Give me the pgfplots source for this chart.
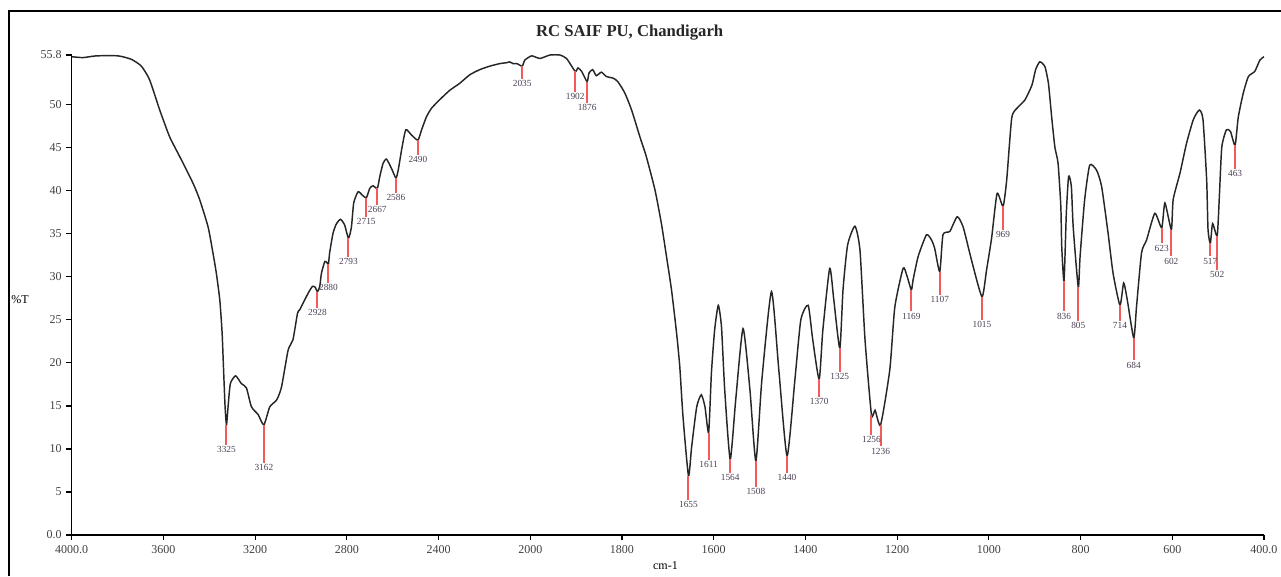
\documentclass[border=0pt]{standalone}
\usepackage{fontspec}
\setmainfont{Liberation Serif}
\usepackage{pgfplots}
\pgfplotsset{compat=1.18}
\usepackage{pgfplotstable}
\definecolor{peakred}{RGB}{245,90,90}
\definecolor{lblgray}{RGB}{75,65,85}
\pgfplotstableread{
wn T
4000 55.6
3951 55.5
3892 55.7
3798 55.7
3740 55.3
3696 54.5
3660 52.9
3616 49.4
3573 46.3
3529 44.0
3471 40.9
3442 39.0
3405 35.8
3384 32.8
3369 30.4
3354 27.3
3344 23.5
3337 18.8
3331 14.9
3325 12.8
3318 14.9
3308 17.6
3285 18.5
3260 17.6
3238 17.1
3216 14.9
3187 14.0
3162 12.8
3136 14.9
3106 15.7
3085 17.2
3056 21.5
3035 22.7
3015 25.8
3005 26.2
2969 28.1
2950 28.9
2938 28.8
2928 28.3
2918 28.9
2911 30.4
2896 31.8
2885 31.6
2880 31.5
2875 32.8
2860 35.1
2845 36.2
2827 36.7
2809 36.0
2793 34.5
2780 35.8
2770 38.6
2751 39.9
2732 39.5
2715 39.2
2700 40.3
2686 40.6
2667 40.3
2656 41.7
2642 43.2
2627 43.7
2605 42.6
2586 41.5
2576 42.4
2561 44.8
2543 47.1
2518 46.5
2490 45.9
2474 47.1
2453 48.6
2431 49.6
2395 50.6
2351 51.7
2308 52.5
2264 53.5
2220 54.1
2177 54.5
2133 54.8
2104 54.9
2090 55.0
2075 54.8
2058 54.8
2035 54.5
2024 55.2
1997 55.7
1979 55.4
1957 55.8
1936 55.8
1921 55.4
1902 53.9
1896 54.3
1888 53.9
1876 52.7
1872 53.7
1864 54.1
1856 53.4
1845 53.8
1834 53.3
1819 53.1
1809 52.7
1794 51.4
1779 49.4
1761 46.3
1747 44.0
1728 40.1
1714 36.2
1703 32.4
1692 28.5
1681 23.5
1674 19.6
1667 13.8
1655 6.9
1648 10.3
1637 14.9
1627 16.3
1619 14.9
1611 11.9
1605 18.8
1598 23.8
1590 26.7
1583 24.2
1576 16.9
1564 8.8
1552 15.7
1536 24.0
1521 16.9
1508 8.6
1495 18.0
1474 28.3
1458 19.2
1440 9.2
1423 18.0
1410 25.0
1394 26.7
1384 22.7
1370 18.1
1362 23.8
1347 31.0
1338 27.3
1325 21.7
1318 28.5
1308 33.7
1292 35.9
1281 33.1
1270 22.7
1256 14.0
1248 14.5
1236 12.8
1216 19.2
1205 26.5
1187 31.0
1179 30.2
1169 28.5
1165 29.7
1154 32.4
1136 34.9
1125 34.3
1118 33.3
1107 30.6
1100 34.9
1085 35.3
1069 37.0
1056 35.8
1038 32.0
1015 27.7
1005 30.8
994 34.5
982 39.7
969 38.2
961 41.3
950 48.5
937 49.7
921 50.6
906 52.3
898 54.1
889 55.0
878 54.5
870 52.5
863 48.6
856 45.1
849 43.2
843 38.2
841 33.5
836 29.5
831 37.4
826 41.7
820 40.5
816 35.8
805 28.8
801 32.4
791 39.0
780 43.0
765 42.4
754 40.5
740 35.1
729 30.4
714 26.7
706 29.3
698 27.3
684 22.9
678 26.5
667 32.8
656 34.3
638 37.4
623 35.7
616 38.6
602 35.5
598 39.0
583 42.1
569 45.5
554 48.3
541 49.4
533 48.3
525 41.3
522 35.5
517 33.9
512 36.2
502 34.8
497 39.7
492 45.1
482 47.1
473 46.9
463 45.3
456 48.6
445 51.4
434 53.3
420 53.9
409 55.2
400 55.6
}\spectrum
\pgfplotstableread{
wn top bot err label
3325 12.8 10.5 2.3 3325
3162 12.8 8.4 4.4 3162
2928 28.3 26.4 1.9 2928
2880 31.5 29.3 2.2 2880
2793 34.5 32.3 2.2 2793
2715 39.2 37.0 2.2 2715
2667 40.3 38.4 1.9 2667
2586 41.5 39.8 1.7 2586
2490 45.9 44.2 1.7 2490
2035 54.5 53.0 1.5 2035
1902 53.9 51.5 2.4 1902
1876 52.7 50.2 2.5 1876
1655 6.9 4.1 2.8 1655
1611 11.9 8.7 3.2 1611
1564 8.8 7.2 1.6 1564
1508 8.6 5.6 3.0 1508
1440 9.2 7.2 2.0 1440
1370 18.1 16.1 2.0 1370
1325 21.7 19.0 2.7 1325
1256 14.0 11.6 2.4 1256
1236 12.8 10.3 2.5 1236
1169 28.5 26.0 2.5 1169
1107 30.6 27.9 2.7 1107
1015 27.7 25.0 2.7 1015
969 38.2 35.5 2.7 969
836 29.5 26.0 3.5 836
805 28.8 24.9 3.9 805
714 26.7 24.9 1.8 714
684 22.9 20.3 2.6 684
623 35.7 33.9 1.8 623
602 35.5 32.4 3.1 602
517 33.9 32.4 1.5 517
502 34.8 30.8 4.0 502
463 45.3 42.6 2.7 463
}\peaks
\begin{document}
\begin{tikzpicture}[x=0.75pt,y=0.75pt]
\begin{axis}[
  scale only axis, width=894.2pt, height=360pt,
  xmin=4000, xmax=400, ymin=0, ymax=55.8,
  x coord trafo/.code={\pgfmathparse{(#1>=2000)*(4000-#1)/2+(#1<2000)*(3000-#1)}},
  axis lines*=left,
  axis line style={line width=1.1pt, black},
  tick align=outside,
  major tick length=4pt,
  tick style={line width=0.8pt, black},
  xtick={4000,3600,3200,2800,2400,2000,1800,1600,1400,1200,1000,800,600,400},
  xticklabels={4000.0,3600,3200,2800,2400,2000,1800,1600,1400,1200,1000,800,600,400.0},
  ytick={0,5,10,15,20,25,30,35,40,45,50,55.8},
  yticklabels={0.0,5,10,15,20,25,30,35,40,45,50,55.8},
  /pgf/number format/assume math mode=true,
  tick label style={font=\fontsize{9}{10}\selectfont, text=black!75},
  title={RC SAIF PU, Chandigarh},
  title style={at={(rel axis cs:0.468,1.031)}, anchor=center, font=\bfseries\fontsize{12.5}{14}\selectfont, text=black!85},
  xlabel={cm-1},
  xlabel style={at={(rel axis cs:0.498,-0.0646)}, anchor=center, font=\fontsize{9}{10}\selectfont},
  ylabel={\%T},
  ylabel style={at={(rel axis cs:-0.0434,0.49)}, rotate=-90, anchor=center, font=\fontsize{9}{10}\selectfont},
  clip=false,
]
\coordinate (O) at (rel axis cs:0,0);
\addplot[black!85, line width=1.1pt, mark=none, smooth, tension=0.35] table[x=wn, y=T] {\spectrum};
\addplot[draw=none, mark=none, forget plot,
  error bars/.cd, y dir=minus, y explicit, error mark=none,
  error bar style={draw=peakred, line width=1.5pt}]
  table[x=wn, y=top, y error=err] {\peaks};
\addplot[draw=none, mark=none, forget plot, nodes near coords, point meta=explicit symbolic,
  every node near coord/.append style={anchor=north, font=\fontsize{7}{8}\selectfont, text=lblgray, inner sep=1pt}]
  table[x=wn, y=bot, meta=label] {\peaks};
\end{axis}
\pgfresetboundingbox
\begin{scope}[shift={(O)}]
\path[use as bounding box] (-71.7,-41) rectangle (1209.3,535);
\draw[line width=1.5pt] (-62.7,-41) -- (-62.7,524) -- (1209.3,524);
\end{scope}
\end{tikzpicture}
\end{document}
